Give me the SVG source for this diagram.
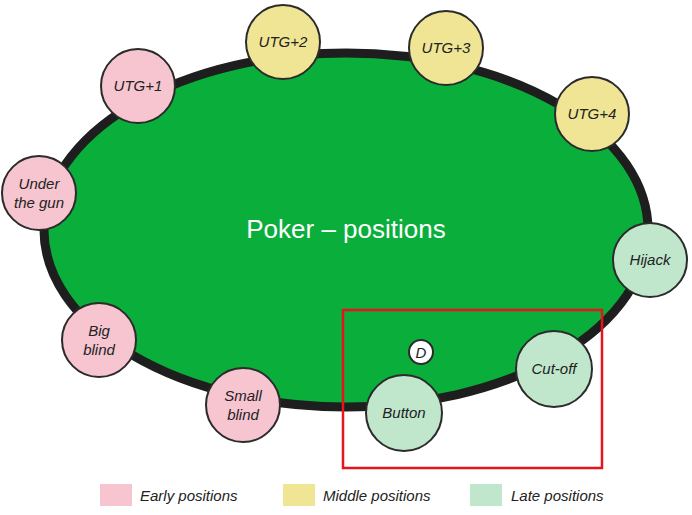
<svg xmlns="http://www.w3.org/2000/svg" width="692" height="515" viewBox="0 0 692 515">
<style>
.s{stroke:#2b2b2b;stroke-width:2}
.e{fill:#f6c5d0}.m{fill:#efe594}.l{fill:#c0e6cc}
text{font-family:"Liberation Sans",Arial,sans-serif;font-style:italic;font-size:15px;fill:#222;text-anchor:middle}
.lg{text-anchor:start;font-size:15px}
</style>
<rect width="692" height="515" fill="#fff"/>
<g id="table"><ellipse cx="346" cy="230" rx="302" ry="177" fill="#0aae3b" stroke="#1e1e1e" stroke-width="9"/>
<text x="346" y="238" style="font-style:normal;font-size:26px;fill:#fff">Poker – positions</text></g>
<g id="connectors"></g>
<g id="utg1"><circle class="s e" cx="138" cy="86" r="37"/><text x="138" y="91">UTG+1</text></g>
<g id="utg2"><circle class="s m" cx="283" cy="42" r="37"/><text x="283" y="47">UTG+2</text></g>
<g id="utg3"><circle class="s m" cx="446" cy="48" r="37"/><text x="446" y="53">UTG+3</text></g>
<g id="utg4"><circle class="s m" cx="592" cy="114" r="37"/><text x="592" y="119">UTG+4</text></g>
<g id="utg"><circle class="s e" cx="39" cy="193" r="37"/><text x="39" y="189">Under</text><text x="39" y="208">the gun</text></g>
<g id="hijack"><circle class="s l" cx="650" cy="260" r="37"/><text x="650" y="265">Hijack</text></g>
<g id="bb"><circle class="s e" cx="99" cy="340" r="37"/><text x="99" y="336">Big</text><text x="99" y="355">blind</text></g>
<g id="sb"><circle class="s e" cx="243" cy="405" r="37"/><text x="243" y="401">Small</text><text x="243" y="420">blind</text></g>
<g id="button"><circle class="s l" cx="404" cy="413" r="38"/><text x="404" y="418">Button</text></g>
<g id="cutoff"><circle class="s l" cx="554" cy="369" r="38"/><text x="554" y="374">Cut-off</text></g>
<g id="dealer"><circle class="s" fill="#fff" cx="421" cy="352" r="12"/><text x="421" y="358">D</text></g>
<rect x="343" y="310" width="259" height="158" fill="none" stroke="#e8141c" stroke-width="2.5"/>
<g id="legend">
<rect x="100" y="484" width="32" height="22" class="e"/><text class="lg" x="140" y="501">Early positions</text>
<rect x="283" y="484" width="32" height="22" class="m"/><text class="lg" x="323" y="501">Middle positions</text>
<rect x="470" y="484" width="32" height="22" class="l"/><text class="lg" x="511" y="501">Late positions</text>
</g>
</svg>
